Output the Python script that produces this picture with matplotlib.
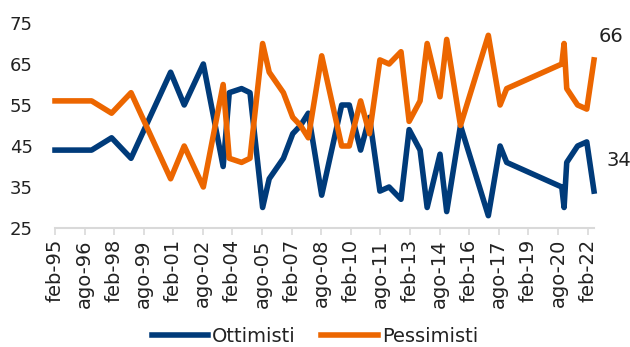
import pandas as pd
import matplotlib
matplotlib.use("Agg")
import matplotlib.pyplot as plt

dates = [
    "1995-02-01", "1996-12-10", "1997-12-15", "1998-12-10", "2000-12-12",
    "2001-08-21", "2002-08-10", "2003-08-12", "2003-12-03", "2004-07-18",
    "2004-12-21", "2005-08-12", "2005-12-12", "2006-09-01", "2007-02-21",
    "2007-07-15", "2007-12-06", "2008-08-10", "2009-08-15", "2010-01-03",
    "2010-08-01", "2011-01-12", "2011-07-24", "2012-01-10", "2012-08-18",
    "2013-01-15", "2013-08-06", "2013-12-15", "2014-08-10", "2014-12-12",
    "2015-08-24", "2017-01-21", "2017-08-27", "2017-12-27", "2020-10-12",
    "2020-11-24", "2021-01-12", "2021-08-01", "2022-01-18", "2022-06-01",
]
ottimisti = [
    44, 44, 47, 42, 63, 55, 65, 40, 58, 59,
    58, 30, 37, 42, 48, 50, 53, 33, 55, 55,
    44, 52, 34, 35, 32, 49, 44, 30, 43, 29,
    50, 28, 45, 41, 35, 30, 41, 45, 46, 34,
]
pessimisti = [
    56, 56, 53, 58, 37, 45, 35, 60, 42, 41,
    42, 70, 63, 58, 52, 50, 47, 67, 45, 45,
    56, 48, 66, 65, 68, 51, 56, 70, 57, 71,
    50, 72, 55, 59, 65, 70, 59, 55, 54, 66,
]
tick_labels = [
    "feb-95", "ago-96", "feb-98", "ago-99", "feb-01", "ago-02", "feb-04",
    "ago-05", "feb-07", "ago-08", "feb-10", "ago-11", "feb-13", "ago-14",
    "feb-16", "ago-17", "feb-19", "ago-20", "feb-22",
]

BLUE = "#003B7A"
ORANGE = "#EC6600"
TEXT = "#222222"

plt.rcParams["font.family"] = ["DejaVu Sans"]

fig = plt.figure(figsize=(6.3, 3.47), dpi=100)
ax = fig.add_axes([55 / 630, 1 - 228 / 347, (594 - 55) / 630, (228 - 23) / 347])

x = pd.to_datetime(dates)
ax.plot(x, ottimisti, color=BLUE, lw=4, solid_joinstyle="round",
        label="Ottimisti", clip_on=False)
ax.plot(x, pessimisti, color=ORANGE, lw=4, solid_joinstyle="round",
        label="Pessimisti", clip_on=False)

ax.set_ylim(25, 75)
ax.set_yticks(range(25, 76, 10))
ax.set_xlim(x[0], x[-1])
tick_dates = pd.date_range("1995-02-01", periods=len(tick_labels), freq="18MS")
ax.set_xticks(tick_dates)
ax.set_xticklabels(tick_labels, rotation=90, fontsize=14, color=TEXT)

for s in ["top", "right", "left"]:
    ax.spines[s].set_visible(False)
ax.spines["bottom"].set_color("#D9D9D9")
ax.spines["bottom"].set_linewidth(1.5)
ax.tick_params(axis="x", length=5, width=1.2, color="#D9D9D9", pad=3)
ax.tick_params(axis="y", length=0, pad=16, labelsize=13, labelcolor=TEXT)

# end labels
ax.annotate(str(pessimisti[-1]), (x[-1], pessimisti[-1]), xytext=(3, 17),
            textcoords="offset points", ha="left", va="center",
            fontsize=14, color=TEXT, annotation_clip=False)
ax.annotate(str(ottimisti[-1]), (x[-1], ottimisti[-1]), xytext=(9, 22),
            textcoords="offset points", ha="left", va="center",
            fontsize=14, color=TEXT, annotation_clip=False)

fig.legend(loc="center", bbox_to_anchor=(0.5, 0.03), ncol=2, frameon=False,
           fontsize=14, handlelength=2.9, handletextpad=0.2,
           columnspacing=1.3, borderpad=0, labelcolor=TEXT)

fig.savefig("out.png", dpi=100)
